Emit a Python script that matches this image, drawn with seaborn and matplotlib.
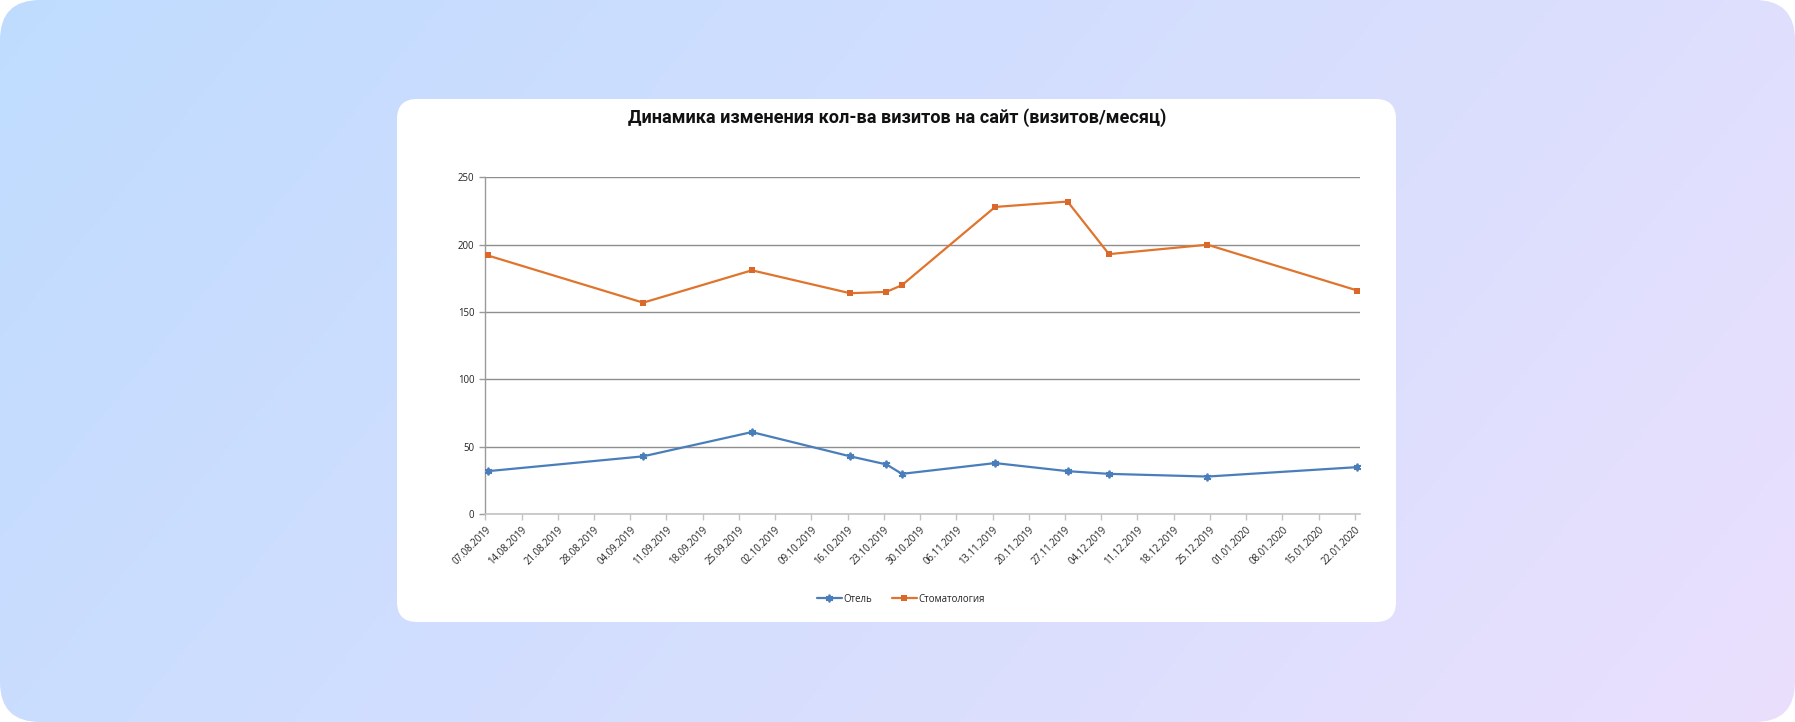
import numpy as np
import pandas as pd
import matplotlib
matplotlib.use("Agg")
import matplotlib.pyplot as plt
from matplotlib.patches import FancyBboxPatch
import seaborn as sns

# ---------------- data ----------------
dates = ["07.08.2019", "06.09.2019", "27.09.2019", "16.10.2019", "23.10.2019",
         "26.10.2019", "13.11.2019", "27.11.2019", "05.12.2019", "24.12.2019",
         "22.01.2020"]
hotel = [32, 43, 61, 43, 37, 30, 38, 32, 30, 28, 35]
dental = [192, 157, 181, 164, 165, 170, 228, 232, 193, 200, 166]
series_names = ["Отель", "Стоматология"]
x_tick_labels = ["07.08.2019", "14.08.2019", "21.08.2019", "28.08.2019", "04.09.2019",
                 "11.09.2019", "18.09.2019", "25.09.2019", "02.10.2019", "09.10.2019",
                 "16.10.2019", "23.10.2019", "30.10.2019", "06.11.2019", "13.11.2019",
                 "20.11.2019", "27.11.2019", "04.12.2019", "11.12.2019", "18.12.2019",
                 "25.12.2019", "01.01.2020", "08.01.2020", "15.01.2020", "22.01.2020"]
y_ticks = [0, 50, 100, 150, 200, 250]
title = "Динамика изменения кол-ва визитов на сайт (визитов/месяц)"

# ---------------- style ----------------
sns.set_style("white")
plt.rcParams["font.family"] = ["Open Sans", "DejaVu Sans"]

W, H = 1795, 722
fig = plt.figure(figsize=(W / 100, H / 100), dpi=100)
fig.patch.set_facecolor("white")

# background gradient with rounded outer corners
bg = fig.add_axes([0, 0, 1, 1])
bg.set_xlim(0, W)
bg.set_ylim(H, 0)
bg.axis("off")
xx, yy = np.meshgrid(np.linspace(0, 1, 400), np.linspace(0, 1, 200))
t = np.clip((xx * 0.75 + yy * 0.25), 0, 1)[..., None]
c0 = np.array([0xbf, 0xdc, 0xff]) / 255
c1 = np.array([0xea, 0xe0, 0xfd]) / 255
img = c0 * (1 - t) + c1 * t
im = bg.imshow(img, extent=[0, W, H, 0], aspect="auto", zorder=0)
clip = FancyBboxPatch((0, 0), W, H, boxstyle="round,pad=0,rounding_size=40",
                      transform=bg.transData, fc="none", ec="none")
im.set_clip_path(clip)

card = FancyBboxPatch((397, 99), 999, 523, boxstyle="round,pad=0,rounding_size=20",
                      fc="white", ec="none", zorder=1)
bg.add_patch(card)

# ---------------- chart ----------------
ax = fig.add_axes([485.3 / W, (H - 514.3) / H, (1360 - 485.3) / W, 337 / H])
ax.set_facecolor("none")

dt = pd.to_datetime(dates, format="%d.%m.%Y") + pd.Timedelta(hours=12)
df_h = pd.DataFrame({"date": dt, "value": hotel})
df_d = pd.DataFrame({"date": dt, "value": dental})

blue = "#4a7ebb"
orange = "#e0742c"
sns.lineplot(data=df_h, x="date", y="value", ax=ax, color=blue, lw=1.6,
             marker=(6, 2, 0), markersize=5.5, markeredgewidth=1.3,
             markeredgecolor=blue, label=series_names[0], zorder=3)
sns.lineplot(data=df_d, x="date", y="value", ax=ax, color=orange, lw=1.6,
             marker="s", markersize=4, markeredgewidth=0,
             markerfacecolor="#d9682a", label=series_names[1], zorder=3)

xt = pd.to_datetime(x_tick_labels, format="%d.%m.%Y")
ax.set_xlim(pd.Timestamp("2019-08-07"), pd.Timestamp("2020-01-23"))
ax.set_xticks(xt)
ax.set_xticklabels(x_tick_labels, rotation=45, ha="right", rotation_mode="anchor",
                   fontsize=6.9, color="#222222")
ax.set_ylim(0, 250)
ax.set_yticks(y_ticks)
ax.set_yticklabels([str(v) for v in y_ticks], fontsize=6.9, color="#222222")
ax.set_xlabel("")
ax.set_ylabel("")

ax.yaxis.grid(True, color="#8e8e8e", lw=1)
ax.xaxis.grid(False)
for s in ["top", "right"]:
    ax.spines[s].set_visible(False)
ax.spines["left"].set_color("#9a9a9a")
ax.spines["bottom"].set_color("#c4c4c4")
ax.spines["left"].set_linewidth(1)
ax.spines["bottom"].set_linewidth(1.2)
ax.tick_params(axis="x", which="major", direction="out", length=4, width=1,
               color="#c4c4c4", pad=3, bottom=True)
ax.tick_params(axis="y", which="major", direction="out", length=4, width=1,
               color="#9a9a9a", pad=4, left=True)

leg = ax.legend(loc="center", bbox_to_anchor=(901 / W, 1 - 599 / H),
                bbox_transform=fig.transFigure, ncol=2, frameon=False,
                fontsize=6.9, handlelength=2.6, columnspacing=2.0,
                handletextpad=0.2)
for txt in leg.get_texts():
    txt.set_color("#222222")

fig.text(897 / W, 1 - 118 / H, title, ha="center", va="center",
         fontsize=13.1, fontweight="bold", family=["Roboto", "DejaVu Sans"],
         color="#111111")

fig.savefig("out.png", dpi=100)
